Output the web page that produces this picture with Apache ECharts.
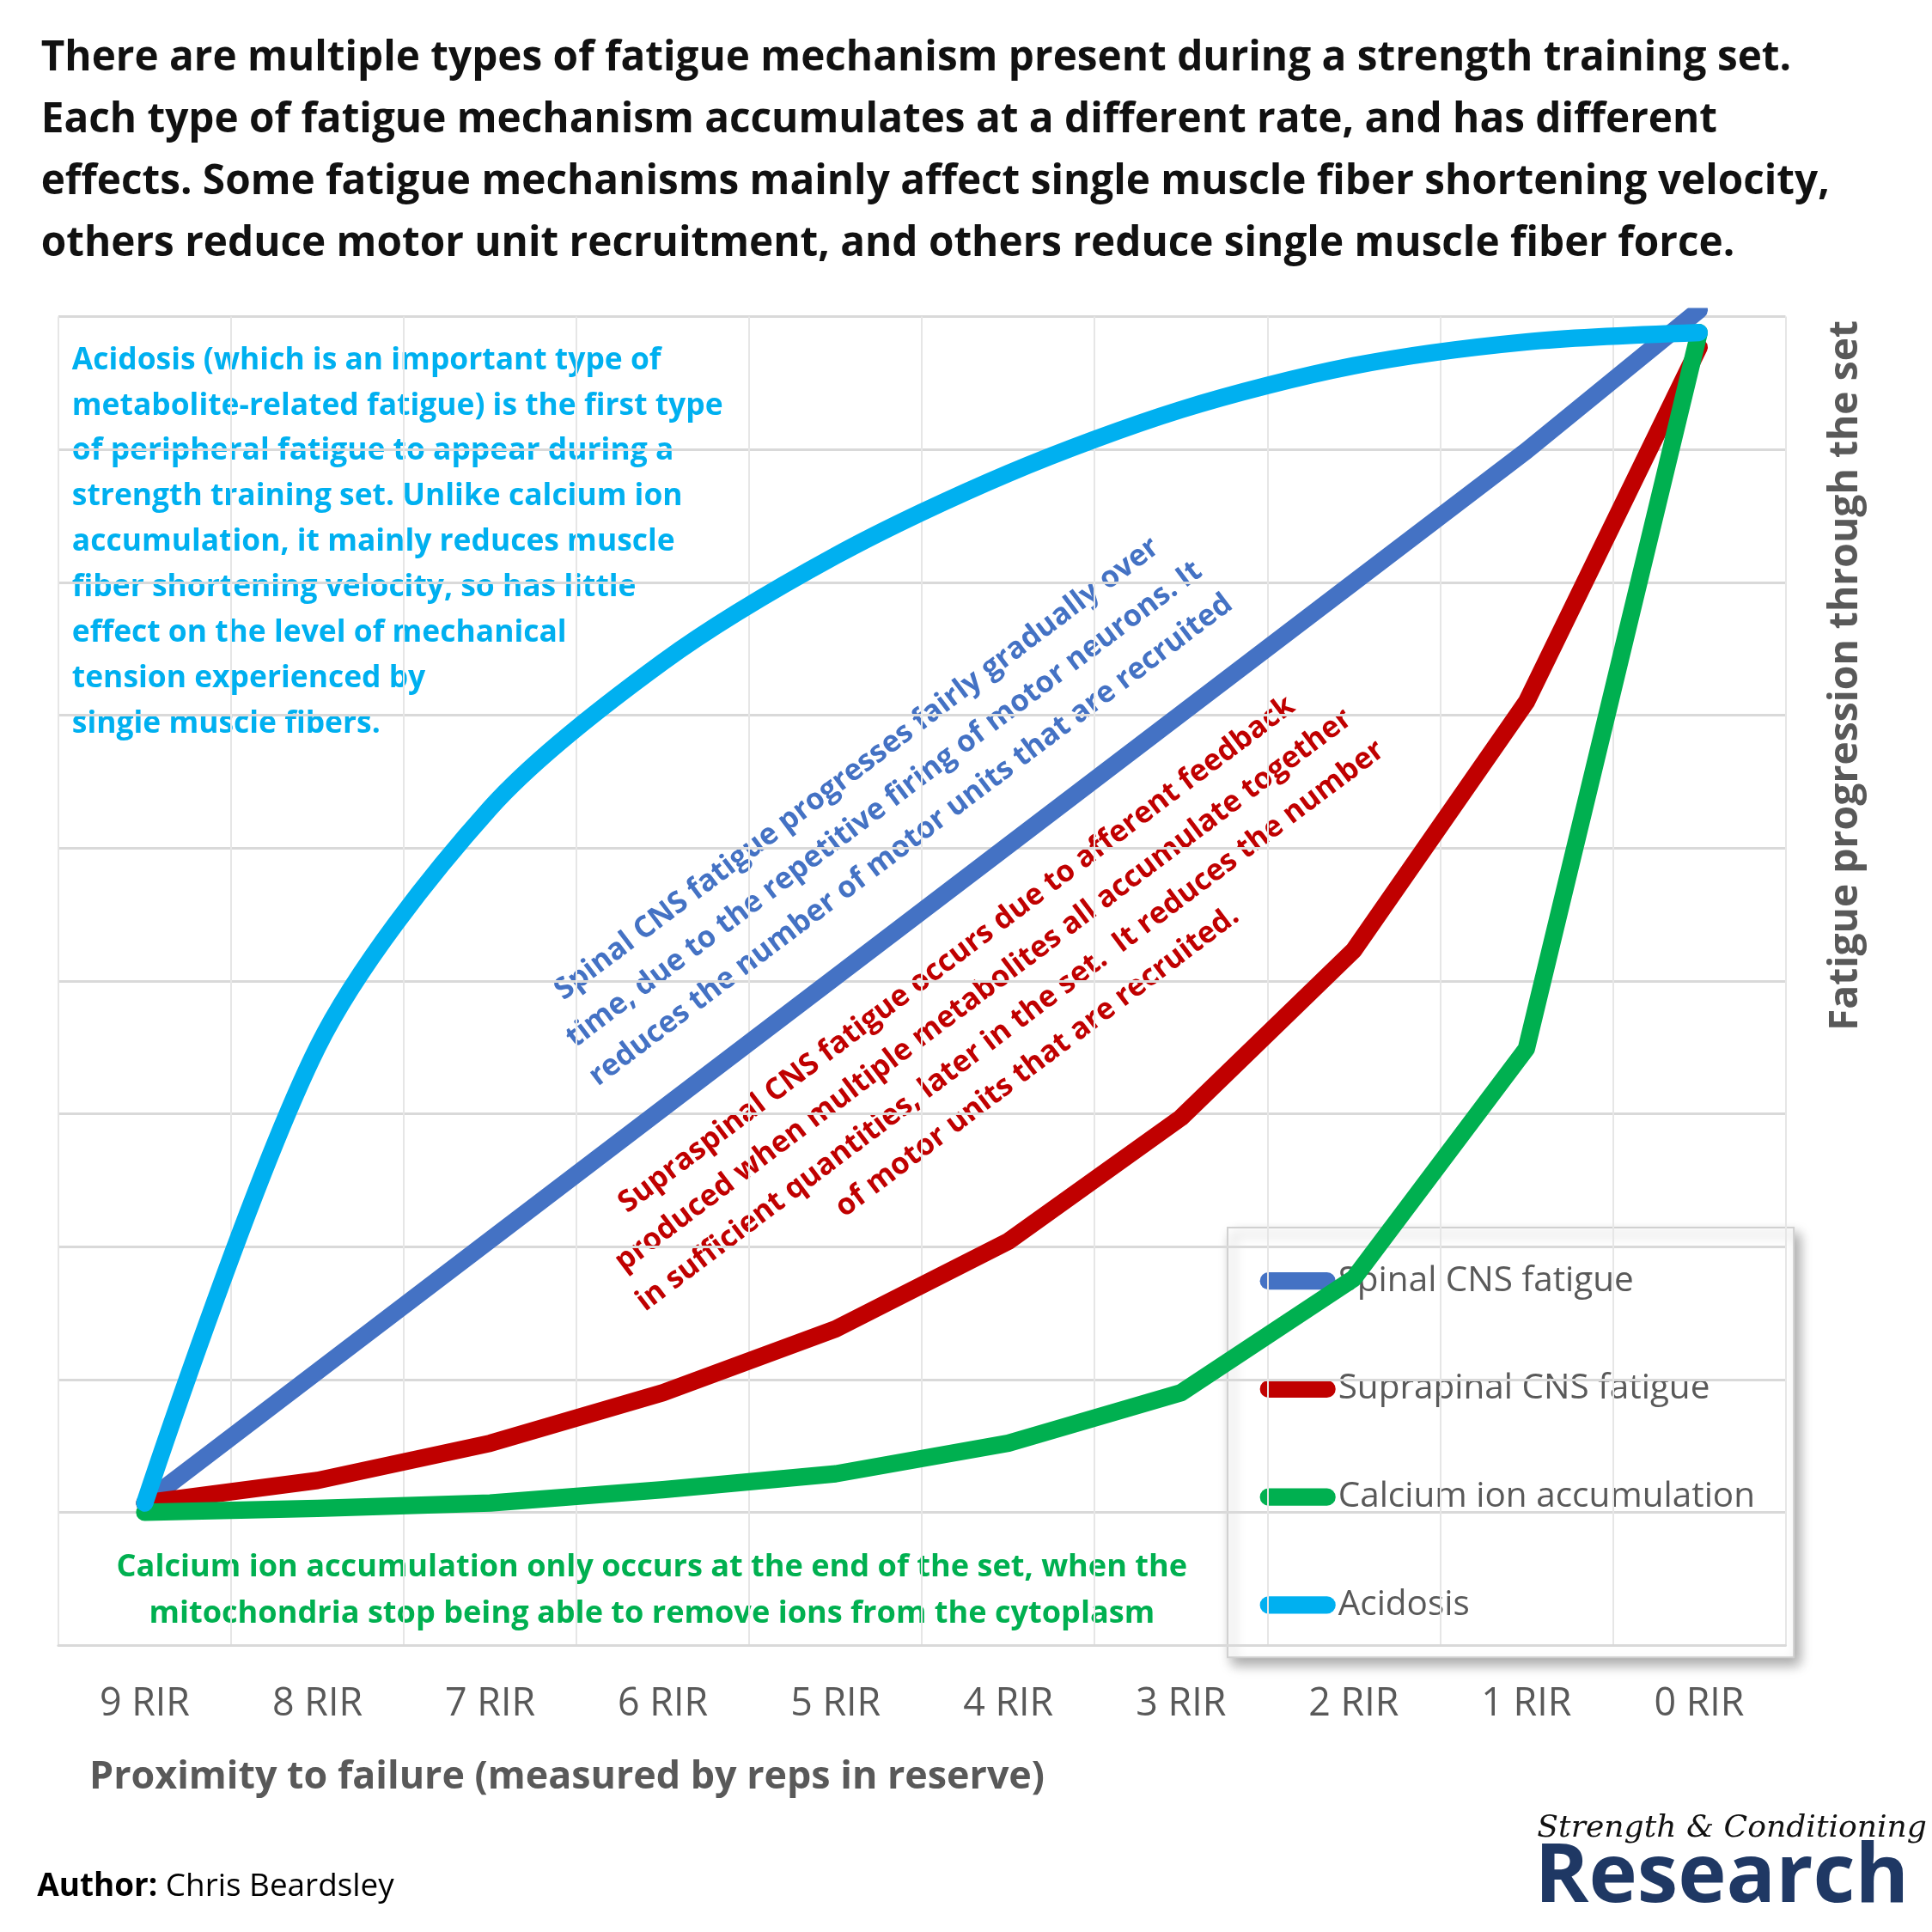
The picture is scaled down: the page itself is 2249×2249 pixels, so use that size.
<!DOCTYPE html><html><head><meta charset="utf-8"><style>html,body{margin:0;background:#fff}#c{width:2249px;height:2249px}</style>
<script src="https://cdn.jsdelivr.net/npm/echarts@6/dist/echarts.min.js"></script></head><body><div id="c"></div><script>
const categories=['9 RIR','8 RIR','7 RIR','6 RIR','5 RIR','4 RIR','3 RIR','2 RIR','1 RIR','0 RIR'];
const spinal=[1.07,2.06,3.05,4.04,5.03,6.02,7.01,8.0,8.99,10.05];
const supraspinal=[1.07,1.24,1.52,1.9,2.38,3.04,3.97,5.23,7.1,9.77];
const calcium=[1.0,1.03,1.07,1.17,1.29,1.52,1.9,2.76,4.49,9.88];
const acidosis=[1.07,4.5,6.3,7.4,8.2,8.82,9.3,9.63,9.81,9.88];
const S=2249/1556;
const F='"Open Sans", sans-serif';
const chart=echarts.init(document.getElementById('c'));
const title=['There are multiple types of fatigue mechanism present during a strength training set.','Each type of fatigue mechanism accumulates at a different rate, and has different','effects. Some fatigue mechanisms mainly affect single muscle fiber shortening velocity,','others reduce motor unit recruitment, and others reduce single muscle fiber force.'].join('\n');
const cyanTxt=['Acidosis (which is an important type of','metabolite-related fatigue) is the first type','of peripheral fatigue to appear during a','strength training set. Unlike calcium ion','accumulation, it mainly reduces muscle','fiber shortening velocity, so has little','effect on the level of mechanical','tension experienced by','single muscle fibers.'].join('\n');
const blueTxt=['Spinal CNS fatigue progresses fairly gradually over','time, due to the repetitive firing of motor neurons. It','reduces the number of motor units that are recruited'].join('\n');
const redTxt=['Supraspinal CNS fatigue occurs due to afferent feedback','produced when multiple metabolites all accumulate together','in sufficient quantities, later in the set.  It reduces the number','of motor units that are recruited.'].join('\n');
const greenTxt=['Calcium ion accumulation only occurs at the end of the set, when the','mitochondria stop being able to remove ions from the cytoplasm'].join('\n');
const ang=37*Math.PI/180;
function ln(name,data,color,smooth){return {name,type:'line',data,smooth:smooth?0.3:false,symbol:'none',lineStyle:{width:14*S,color,cap:'round',join:'round'},itemStyle:{color},z:smooth?5:3};}
chart.setOption({
 animation:false,
 grid:{left:47*S,right:(1556-1438)*S,top:255*S,bottom:(1556-1325)*S},
 xAxis:{type:'category',data:categories,boundaryGap:true,axisLine:{show:true,lineStyle:{color:'#d9d9d9',width:3}},axisTick:{show:false},
  axisLabel:{color:'#595959',fontSize:31*S,fontFamily:F,margin:32*S},splitLine:{show:true,lineStyle:{color:'#e6e6e6',width:2}}},
 yAxis:{type:'value',min:0,max:10,interval:1,axisLabel:{show:false},axisLine:{show:false},axisTick:{show:false},splitLine:{lineStyle:{color:'#d9d9d9',width:3}}},
 legend:{show:false},
 series:[ln('Spinal CNS fatigue',spinal,'#4472c4'),ln('Suprapinal CNS fatigue',supraspinal,'#c00000'),ln('Calcium ion accumulation',calcium,'#00b050'),ln('Acidosis',acidosis,'#00b0f0',true)],
 graphic:[
  {type:'text',left:33*S,top:22*S,style:{text:title,font:`bold ${33*S}px ${F}`,fill:'#111',lineHeight:50*S}},
  {type:'text',left:58*S,top:272*S,style:{text:cyanTxt,font:`bold ${24.5*S}px ${F}`,fill:'#00b0f0',lineHeight:36.6*S}},
  {type:'text',x:712*S,y:648*S,rotation:ang,style:{text:blueTxt,font:`bold ${24*S}px ${F}`,fill:'#4472c4',lineHeight:36*S,align:'center',verticalAlign:'middle'}},
  {type:'text',x:803*S,y:812*S,rotation:ang,style:{text:redTxt,font:`bold ${24*S}px ${F}`,fill:'#c00000',lineHeight:36*S,align:'center',verticalAlign:'middle'}},
  {type:'text',x:525*S,y:1281*S,style:{text:greenTxt,font:`bold ${25*S}px ${F}`,fill:'#00b050',lineHeight:37*S,align:'center',verticalAlign:'middle'}},
  {type:'text',x:1487*S,y:258*S,rotation:Math.PI/2,style:{text:'Fatigue progression through the set',font:`bold ${32*S}px ${F}`,fill:'#595959',align:'right',verticalAlign:'middle'}},
  {type:'text',left:72*S,top:1416*S,style:{text:'Proximity to failure (measured by reps in reserve)',font:`bold ${31*S}px ${F}`,fill:'#595959'}},
  {type:'text',left:30*S,top:1507*S,style:{rich:{b:{font:`bold ${25.5*S}px ${F}`,fill:'#000'},n:{font:`${25.5*S}px ${F}`,fill:'#000'}},text:'{b|Author:}{n|\u00a0Chris Beardsley}'}},
  {type:'text',left:1238*S,top:1460*S,style:{text:'Strength & Conditioning',font:`italic ${25*S}px "DejaVu Serif", serif`,fill:'#111'}},
  {type:'text',left:1236*S,top:1480*S,style:{text:'Research',font:`bold ${66*S}px ${F}`,fill:'#1f3864'}},
  {type:'group',left:988*S,top:988*S,children:[
   {type:'rect',shape:{width:456*S,height:346*S},style:{fill:'#fff',stroke:'#d0d0d0',lineWidth:2,shadowBlur:14,shadowOffsetX:6,shadowOffsetY:8,shadowColor:'rgba(0,0,0,0.35)'}},
   ...[['Spinal CNS fatigue','#4472c4'],['Suprapinal CNS fatigue','#c00000'],['Calcium ion accumulation','#00b050'],['Acidosis','#00b0f0']].flatMap((d,i)=>[
    {type:'line',shape:{x1:33*S,y1:(43+i*87)*S,x2:80*S,y2:(43+i*87)*S},style:{stroke:d[1],lineWidth:14*S,lineCap:'round'}},
    {type:'text',x:89*S,y:(43+i*87)*S,style:{text:d[0],font:`${28*S}px ${F}`,fill:'#595959',verticalAlign:'middle'}}])
  ]}
 ]
});
</script></body></html>
